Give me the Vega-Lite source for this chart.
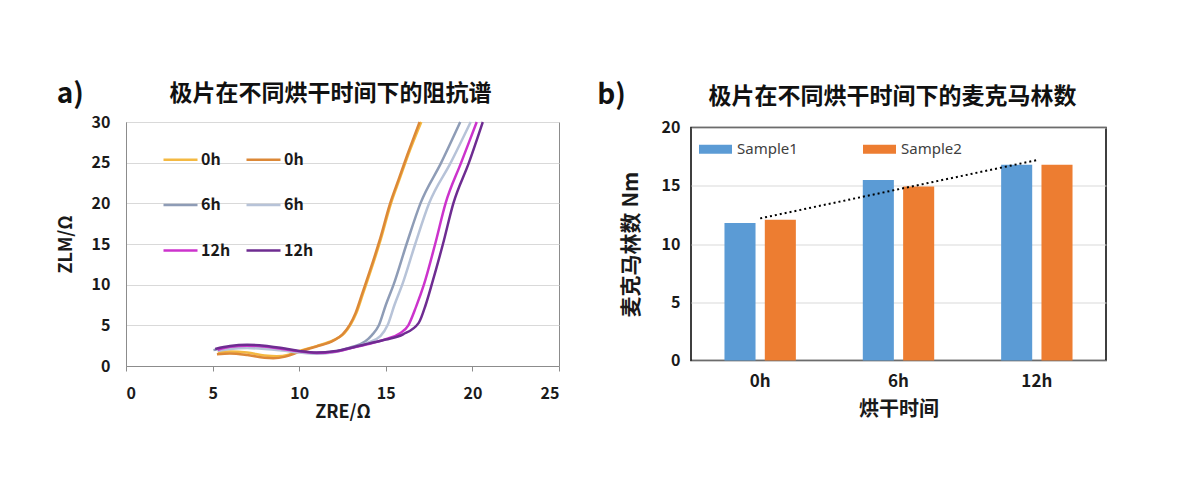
{
  "$schema": "https://vega.github.io/schema/vega-lite/v6.json",
  "background": "white",
  "padding": {"left": 56, "top": 80, "right": 5, "bottom": 5},
  "config": {
    "font": "Noto Sans CJK SC",
    "axis": {"labelColor": "#1a1a1a", "titleColor": "#1a1a1a", "gridColor": "#d9d9d9", "gridWidth": 1}
  },
  "bounds": "flush",
  "center": true,
  "spacing": 132,
  "resolve": {"scale": {"color": "independent"}, "legend": {"color": "independent"}},
  "hconcat": [
    {
      "width": 433,
      "height": 244,
      "title": {"text": "极片在不同烘干时间下的阻抗谱", "fontSize": 23, "fontWeight": "bold", "color": "#111", "anchor": "middle", "dx": -12, "offset": -25},
      "view": {"stroke": "#8c8c8c"},
      "layer": [
        {
          "data": {
            "values": [
              {"s": "0h-1", "x": 5.3, "y": 1.7}, {"s": "0h-1", "x": 6, "y": 1.78}, {"s": "0h-1", "x": 7, "y": 1.65}, {"s": "0h-1", "x": 8, "y": 1.3}, {"s": "0h-1", "x": 8.7, "y": 1.2}, {"s": "0h-1", "x": 9.4, "y": 1.4}, {"s": "0h-1", "x": 10, "y": 1.85}, {"s": "0h-1", "x": 11, "y": 2.45}, {"s": "0h-1", "x": 12, "y": 3.2}, {"s": "0h-1", "x": 12.6, "y": 4.0}, {"s": "0h-1", "x": 13.0, "y": 5.2}, {"s": "0h-1", "x": 13.3, "y": 6.5}, {"s": "0h-1", "x": 13.7, "y": 9}, {"s": "0h-1", "x": 14.1, "y": 11.5}, {"s": "0h-1", "x": 14.7, "y": 15.5}, {"s": "0h-1", "x": 15.3, "y": 20}, {"s": "0h-1", "x": 15.8, "y": 23}, {"s": "0h-1", "x": 16.3, "y": 26}, {"s": "0h-1", "x": 17.05, "y": 30},
              {"s": "0h-2", "x": 5.25, "y": 1.45}, {"s": "0h-2", "x": 6, "y": 1.55}, {"s": "0h-2", "x": 7, "y": 1.35}, {"s": "0h-2", "x": 8, "y": 1.0}, {"s": "0h-2", "x": 8.5, "y": 0.95}, {"s": "0h-2", "x": 9.2, "y": 1.15}, {"s": "0h-2", "x": 10, "y": 1.75}, {"s": "0h-2", "x": 11, "y": 2.4}, {"s": "0h-2", "x": 12, "y": 3.15}, {"s": "0h-2", "x": 12.5, "y": 3.9}, {"s": "0h-2", "x": 12.9, "y": 5.0}, {"s": "0h-2", "x": 13.25, "y": 6.5}, {"s": "0h-2", "x": 13.65, "y": 9}, {"s": "0h-2", "x": 14.05, "y": 11.5}, {"s": "0h-2", "x": 14.65, "y": 15.5}, {"s": "0h-2", "x": 15.25, "y": 20}, {"s": "0h-2", "x": 15.75, "y": 23}, {"s": "0h-2", "x": 16.25, "y": 26}, {"s": "0h-2", "x": 16.95, "y": 30},
              {"s": "6h-1", "x": 5.05, "y": 1.95}, {"s": "6h-1", "x": 6, "y": 2.3}, {"s": "6h-1", "x": 7, "y": 2.45}, {"s": "6h-1", "x": 8, "y": 2.35}, {"s": "6h-1", "x": 9, "y": 2.05}, {"s": "6h-1", "x": 10, "y": 1.75}, {"s": "6h-1", "x": 11, "y": 1.6}, {"s": "6h-1", "x": 12, "y": 1.75}, {"s": "6h-1", "x": 13, "y": 2.3}, {"s": "6h-1", "x": 13.8, "y": 3.0}, {"s": "6h-1", "x": 14.2, "y": 3.8}, {"s": "6h-1", "x": 14.6, "y": 5.0}, {"s": "6h-1", "x": 15.0, "y": 7.5}, {"s": "6h-1", "x": 15.45, "y": 10}, {"s": "6h-1", "x": 16.2, "y": 15}, {"s": "6h-1", "x": 17.0, "y": 20}, {"s": "6h-1", "x": 18.2, "y": 25}, {"s": "6h-1", "x": 19.3, "y": 30},
              {"s": "6h-2", "x": 5.3, "y": 1.85}, {"s": "6h-2", "x": 6, "y": 2.1}, {"s": "6h-2", "x": 7, "y": 2.2}, {"s": "6h-2", "x": 8, "y": 2.1}, {"s": "6h-2", "x": 9, "y": 1.9}, {"s": "6h-2", "x": 10, "y": 1.65}, {"s": "6h-2", "x": 11, "y": 1.5}, {"s": "6h-2", "x": 12, "y": 1.7}, {"s": "6h-2", "x": 13, "y": 2.2}, {"s": "6h-2", "x": 14, "y": 2.9}, {"s": "6h-2", "x": 14.7, "y": 3.7}, {"s": "6h-2", "x": 15.1, "y": 5.0}, {"s": "6h-2", "x": 15.5, "y": 7.5}, {"s": "6h-2", "x": 15.95, "y": 10}, {"s": "6h-2", "x": 16.7, "y": 15}, {"s": "6h-2", "x": 17.5, "y": 20}, {"s": "6h-2", "x": 18.75, "y": 25}, {"s": "6h-2", "x": 19.9, "y": 30},
              {"s": "12h-1", "x": 5.3, "y": 2.0}, {"s": "12h-1", "x": 6, "y": 2.35}, {"s": "12h-1", "x": 7, "y": 2.5}, {"s": "12h-1", "x": 8, "y": 2.4}, {"s": "12h-1", "x": 9, "y": 2.1}, {"s": "12h-1", "x": 10, "y": 1.8}, {"s": "12h-1", "x": 11, "y": 1.6}, {"s": "12h-1", "x": 12, "y": 1.75}, {"s": "12h-1", "x": 13, "y": 2.2}, {"s": "12h-1", "x": 14, "y": 2.7}, {"s": "12h-1", "x": 15, "y": 3.3}, {"s": "12h-1", "x": 15.8, "y": 4.0}, {"s": "12h-1", "x": 16.3, "y": 5.0}, {"s": "12h-1", "x": 16.75, "y": 7.3}, {"s": "12h-1", "x": 17.2, "y": 10}, {"s": "12h-1", "x": 17.85, "y": 15}, {"s": "12h-1", "x": 18.45, "y": 20}, {"s": "12h-1", "x": 19.35, "y": 25}, {"s": "12h-1", "x": 20.25, "y": 30},
              {"s": "12h-2", "x": 5.15, "y": 2.1}, {"s": "12h-2", "x": 6, "y": 2.45}, {"s": "12h-2", "x": 7, "y": 2.6}, {"s": "12h-2", "x": 8, "y": 2.5}, {"s": "12h-2", "x": 9, "y": 2.2}, {"s": "12h-2", "x": 10, "y": 1.85}, {"s": "12h-2", "x": 11, "y": 1.65}, {"s": "12h-2", "x": 12, "y": 1.8}, {"s": "12h-2", "x": 13, "y": 2.25}, {"s": "12h-2", "x": 14, "y": 2.75}, {"s": "12h-2", "x": 15, "y": 3.25}, {"s": "12h-2", "x": 16, "y": 3.9}, {"s": "12h-2", "x": 16.9, "y": 5.3}, {"s": "12h-2", "x": 17.3, "y": 7.5}, {"s": "12h-2", "x": 17.65, "y": 10}, {"s": "12h-2", "x": 18.3, "y": 15}, {"s": "12h-2", "x": 18.9, "y": 20}, {"s": "12h-2", "x": 19.8, "y": 25}, {"s": "12h-2", "x": 20.6, "y": 30}
            ]
          },
          "mark": {"type": "line", "interpolate": "monotone", "strokeWidth": 2.5},
          "encoding": {
            "x": {
              "field": "x", "type": "quantitative",
              "scale": {"domain": [0, 25], "nice": false},
              "axis": {"values": [0, 5, 10, 15, 20, 25], "grid": false, "domainColor": "#8c8c8c", "tickColor": "#8c8c8c", "tickSize": 5, "labelFontSize": 16, "labelFontWeight": "bold", "labelPadding": 14, "title": "ZRE/Ω", "titleFontSize": 18, "titleFontWeight": "bold", "titlePadding": 2}
            },
            "y": {
              "field": "y", "type": "quantitative",
              "scale": {"domain": [0, 30], "nice": false},
              "axis": {"values": [0, 5, 10, 15, 20, 25, 30], "domainColor": "#8c8c8c", "ticks": false, "labelFontSize": 16, "labelFontWeight": "bold", "labelPadding": 16, "title": "ZLM/Ω", "titleFontSize": 18, "titleFontWeight": "bold", "titlePadding": 16}
            },
            "color": {
              "field": "s", "type": "nominal",
              "scale": {
                "domain": ["0h-1", "0h-2", "6h-1", "6h-2", "12h-1", "12h-2"],
                "range": ["#f4b942", "#dc8837", "#8e9cb6", "#b7c3d8", "#cc33cc", "#6e2c91"]
              },
              "legend": {
                "orient": "none", "legendX": 36, "legendY": 19, "columns": 2, "direction": "horizontal", "title": null,
                "symbolType": "stroke", "symbolSize": 1156, "symbolStrokeWidth": 2.5,
                "labelFontSize": 16, "labelFontWeight": "bold", "labelColor": "#1a1a1a", "labelOffset": 2,
                "columnPadding": 10, "rowPadding": 18.5,
                "labelExpr": "split(datum.label, '-')[0]"
              }
            }
          }
        },
        {
          "data": {"values": [{}]},
          "mark": {"type": "text", "text": "a)", "fontSize": 28, "fontWeight": "bold", "align": "left", "baseline": "alphabetic", "color": "#111"},
          "encoding": {
            "x": {"datum": -4.0, "type": "quantitative"},
            "y": {"datum": 32.3, "type": "quantitative"}
          }
        }
      ]
    },
    {
      "width": 415,
      "height": 233,
      "title": {"text": "极片在不同烘干时间下的麦克马林数", "fontSize": 23, "fontWeight": "bold", "color": "#111", "anchor": "middle", "dx": -6, "offset": -26.5},
      "view": {"stroke": "#000", "strokeWidth": 1.5},
      "layer": [
        {
          "data": {
            "values": [
              {"time": "0h", "sample": "Sample1", "value": 11.8},
              {"time": "0h", "sample": "Sample2", "value": 12.08},
              {"time": "6h", "sample": "Sample1", "value": 15.5},
              {"time": "6h", "sample": "Sample2", "value": 14.93},
              {"time": "12h", "sample": "Sample1", "value": 16.8},
              {"time": "12h", "sample": "Sample2", "value": 16.8}
            ]
          },
          "mark": {"type": "bar"},
          "encoding": {
            "x": {
              "field": "time", "type": "nominal", "sort": ["0h", "6h", "12h"],
              "scale": {"paddingInner": 0, "paddingOuter": 0},
              "axis": {"labelAngle": 0, "ticks": false, "domain": false, "labelFontSize": 17, "labelFontWeight": "bold", "labelPadding": 13, "title": "烘干时间", "titleFontSize": 20, "titleFontWeight": "bold", "titlePadding": 10}
            },
            "xOffset": {
              "field": "sample", "type": "nominal",
              "scale": {"paddingInner": 0.23, "paddingOuter": 0.83}
            },
            "y": {
              "field": "value", "type": "quantitative",
              "scale": {"domain": [0, 20], "nice": false},
              "axis": {"values": [0, 5, 10, 15, 20], "ticks": false, "domain": false, "labelFontSize": 16, "labelFontWeight": "bold", "labelPadding": 11, "title": "麦克马林数 Nm", "titleFontSize": 21, "titleFontWeight": "bold", "titlePadding": 20}
            },
            "color": {
              "field": "sample", "type": "nominal",
              "scale": {"domain": ["Sample1", "Sample2"], "range": ["#5b9bd5", "#ed7d31"]},
              "legend": {
                "orient": "none", "legendX": 8, "legendY": 5, "direction": "horizontal", "title": null,
                "symbolType": "M-1,-0.28H1V0.28H-1Z", "symbolSize": 1089, "symbolStrokeWidth": 0,
                "labelFont": "Noto Sans", "labelFontSize": 15, "labelColor": "#404040", "labelOffset": 5,
                "columnPadding": 65
              }
            }
          }
        },
        {
          "data": {
            "values": [
              {"time": "0h", "trend": 12.2},
              {"time": "12h", "trend": 17.2}
            ]
          },
          "mark": {"type": "line", "color": "#000", "strokeWidth": 2, "strokeDash": [2, 3]},
          "encoding": {
            "x": {"field": "time", "type": "nominal", "sort": ["0h", "6h", "12h"]},
            "y": {"field": "trend", "type": "quantitative"}
          }
        },
        {
          "data": {"values": [{}]},
          "mark": {"type": "text", "text": "b)", "fontSize": 28, "fontWeight": "bold", "align": "left", "baseline": "alphabetic", "color": "#111", "dx": -163},
          "encoding": {
            "x": {"datum": "0h", "type": "nominal"},
            "y": {"datum": 22.0, "type": "quantitative"}
          }
        }
      ]
    }
  ]
}
